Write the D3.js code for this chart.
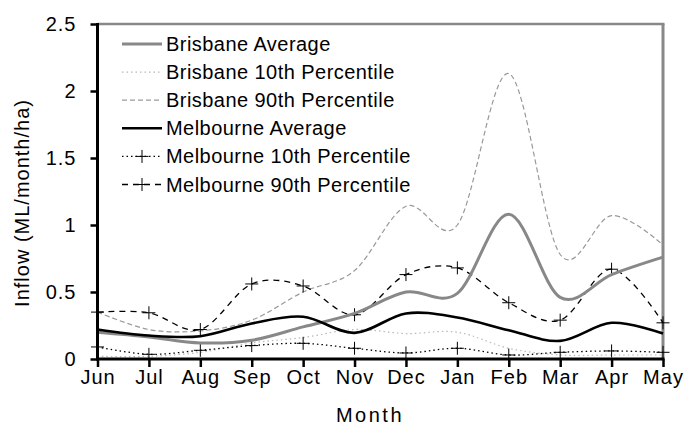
<!DOCTYPE html>
<html>
<head>
<meta charset="utf-8">
<script src="https://cdn.jsdelivr.net/npm/d3@7"></script>
<style>
  body { margin: 0; background: #fff; }
  svg { display: block; font-family: "Liberation Sans", Arial, sans-serif; }
</style>
</head>
<body>
<svg id="chart" width="696" height="425"></svg>
<script>
// Monthly inflow per hectare, June through May
const months = ["Jun", "Jul", "Aug", "Sep", "Oct", "Nov", "Dec", "Jan", "Feb", "Mar", "Apr", "May"];
const yTicks = [0, 0.5, 1, 1.5, 2, 2.5];

const brisbaneAvg  = [0.20, 0.165, 0.12, 0.14, 0.24, 0.34, 0.50, 0.49, 1.08, 0.46, 0.63, 0.76];
const brisbaneP10  = [0.02, 0.02, 0.05, 0.12, 0.16, 0.22, 0.19, 0.20, 0.08, 0.03, 0.03, 0.03];
const brisbaneP90  = [0.35, 0.22, 0.21, 0.29, 0.50, 0.66, 1.14, 1.00, 2.13, 0.78, 1.07, 0.85];
const melbourneAvg = [0.22, 0.175, 0.17, 0.265, 0.315, 0.195, 0.34, 0.31, 0.215, 0.135, 0.27, 0.19];
const melbourneP10 = [0.09, 0.035, 0.065, 0.10, 0.117, 0.08, 0.045, 0.08, 0.03, 0.05, 0.06, 0.05];
const melbourneP90 = [0.35, 0.345, 0.22, 0.56, 0.545, 0.33, 0.63, 0.68, 0.42, 0.29, 0.67, 0.27];

const seriesNames = [
  "Brisbane Average", "Brisbane 10th Percentile", "Brisbane 90th Percentile",
  "Melbourne Average", "Melbourne 10th Percentile", "Melbourne 90th Percentile"
];

const styles = [
  { color: "#888888", width: 3,   dash: null,    marker: false },
  { color: "#b8b8b8", width: 1.2, dash: "1.5,3", marker: false },
  { color: "#999999", width: 1.2, dash: "5,3",   marker: false },
  { color: "#000000", width: 2.6, dash: null,    marker: false },
  { color: "#000000", width: 1.3, dash: "1.5,3", marker: true  },
  { color: "#000000", width: 1.3, dash: "6,5",   marker: true  }
];
const seriesValues = [brisbaneAvg, brisbaneP10, brisbaneP90, melbourneAvg, melbourneP10, melbourneP90];

const svg = d3.select("#chart");
const plotLeft = 97.5, plotRight = 663, plotTop = 24, plotBottom = 359;

const x = d3.scalePoint().domain(months).range([plotLeft, plotRight]);
const y = d3.scaleLinear().domain([0, 2.5]).range([plotBottom, plotTop]);

// grey frame on top and right sides
svg.append("line").attr("x1", plotLeft).attr("x2", plotRight + 1.5).attr("y1", plotTop).attr("y2", plotTop)
  .attr("stroke", "#888").attr("stroke-width", 2.5);
svg.append("line").attr("x1", plotRight).attr("x2", plotRight).attr("y1", plotTop).attr("y2", plotBottom)
  .attr("stroke", "#888").attr("stroke-width", 3);

const line = d3.line()
  .x((d, i) => x(months[i]))
  .y(d => y(d))
  .curve(d3.curveCardinal.tension(0));

const plot = svg.append("g");
// draw back to front: percentiles first, averages last
const order = [1, 2, 4, 5, 0, 3];
order.forEach(k => {
  const s = styles[k];
  plot.append("path")
    .datum(seriesValues[k])
    .attr("d", line)
    .attr("fill", "none")
    .attr("stroke", s.color)
    .attr("stroke-width", s.width)
    .attr("stroke-dasharray", s.dash);
  if (s.marker) {
    plot.append("g").selectAll("path")
      .data(seriesValues[k])
      .join("path")
      .attr("d", (d, i) => {
        const cx = x(months[i]), cy = y(d), r = 6.5;
        return `M${cx - r},${cy}H${cx + r}M${cx},${cy - r}V${cy + r}`;
      })
      .attr("stroke", "#000")
      .attr("stroke-width", 1);
  }
});

// axes
const yAxis = svg.append("g")
  .attr("transform", `translate(${plotLeft},0)`)
  .call(d3.axisLeft(y).tickValues(yTicks).tickFormat(d => String(d)).tickSize(7).tickSizeOuter(0).tickPadding(14));
const xAxis = svg.append("g")
  .attr("transform", `translate(0,${plotBottom})`)
  .call(d3.axisBottom(x).tickSize(8).tickSizeOuter(0).tickPadding(3));

[yAxis, xAxis].forEach(g => {
  g.select(".domain").attr("stroke", "#000").attr("stroke-width", 3);
  g.selectAll(".tick line").attr("stroke", "#000").attr("stroke-width", 2.5);
  g.selectAll(".tick text").attr("fill", "#000").style("font-size", "20px")
    .style("font-family", "'Liberation Sans', Arial, sans-serif").style("letter-spacing", "1px");
});
yAxis.select(".domain").attr("d", `M0,${plotBottom + 1.5}V${plotTop - 1}`);
xAxis.select(".domain").attr("d", `M${plotLeft - 1.5},0H${plotRight + 1.5}`);

// axis titles
svg.append("text")
  .attr("x", 370).attr("y", 422)
  .attr("text-anchor", "middle")
  .style("font-size", "20px").style("letter-spacing", "2.5px")
  .text("Month");
svg.append("text")
  .attr("transform", "translate(29,203) rotate(-90)")
  .attr("text-anchor", "middle")
  .style("font-size", "20px").style("letter-spacing", "1px")
  .text("Inflow (ML/month/ha)");

// legend
const legend = svg.append("g");
seriesNames.forEach((name, k) => {
  const s = styles[k];
  const ly = 44 + k * 28.1;
  legend.append("line")
    .attr("x1", 122).attr("x2", 162).attr("y1", ly).attr("y2", ly)
    .attr("stroke", s.color).attr("stroke-width", s.width)
    .attr("stroke-dasharray", s.dash);
  if (s.marker) {
    legend.append("path")
      .attr("d", `M${142 - 6.5},${ly}H${142 + 6.5}M142,${ly - 6.5}V${ly + 6.5}`)
      .attr("stroke", "#000").attr("stroke-width", 1);
  }
  legend.append("text")
    .attr("x", 166).attr("y", ly + 7)
    .style("font-size", "20px").style("letter-spacing", "0.45px")
    .text(name);
});
</script>
</body>
</html>
